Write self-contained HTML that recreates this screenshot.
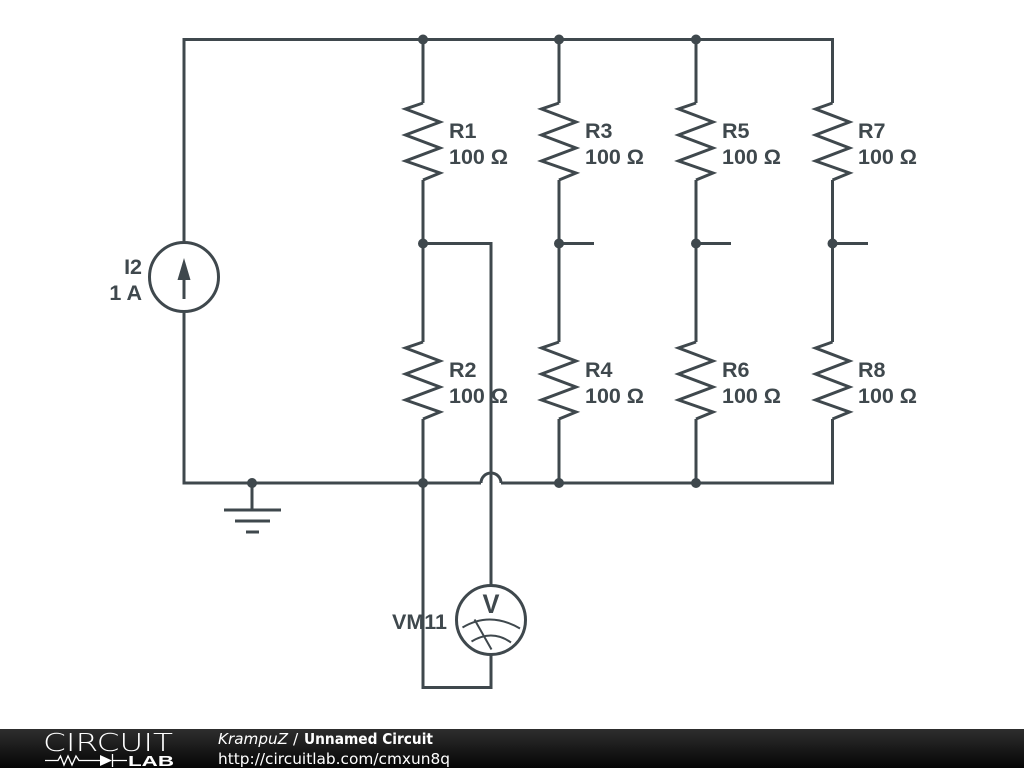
<!DOCTYPE html>
<html><head><meta charset="utf-8"><style>
html,body{margin:0;padding:0;background:#fff}
body{width:1024px;height:768px;overflow:hidden;position:relative}
svg{position:absolute;left:0;top:0}
.l{font:bold 21.500px "Liberation Sans",sans-serif;fill:#3f484d}
.f{font:15.400px "DejaVu Sans",sans-serif;fill:#fff}
.i{font-style:italic}
.b{font-weight:bold}
</style></head><body>
<svg width="1024" height="768" viewBox="0 0 1024 768">
<defs>
<linearGradient id="g" x1="0" y1="0" x2="0" y2="1"><stop offset="0" stop-color="#2e2e2e"/><stop offset="1" stop-color="#050505"/></linearGradient>
</defs>
<g fill="none" stroke="#3f484d" stroke-width="3">
<path d="M184 241V39.500H832.500V103M184 313V483H481M501 483H832.500V419"/>
<path d="M481 483A10 10 0 0 1 501 483"/>
<path d="M423 39.500V103M559 39.500V103M696 39.500V103"/>
<path d="M423 180V342M559 180V342M696 180V342M832.500 180V342"/>
<path d="M423 419V687.500H491V654M559 419V483M696 419V483"/>
<path d="M423 243.500H491V585M559 243.500H594M696 243.500H731M832.500 243.500H868"/>
<path d="M252 483V510M224 510H281M235 521H270M246 532H259"/>
<g>
<polyline points="423,103 405.500,109 440,122 405.500,135 440,148 405.500,161 440,173 423,180"/>
<polyline points="559,103 541.500,109 576,122 541.500,135 576,148 541.500,161 576,173 559,180"/>
<polyline points="696,103 678.500,109 713,122 678.500,135 713,148 678.500,161 713,173 696,180"/>
<polyline points="832.500,103 815.500,109 849.500,122 815.500,135 849.500,148 815.500,161 849.500,173 832.500,180"/>
<polyline points="423,342 405.500,348 440,361 405.500,374 440,387 405.500,400 440,412 423,419"/>
<polyline points="559,342 541.500,348 576,361 541.500,374 576,387 541.500,400 576,412 559,419"/>
<polyline points="696,342 678.500,348 713,361 678.500,374 713,387 678.500,400 713,412 696,419"/>
<polyline points="832.500,342 815.500,348 849.500,361 815.500,374 849.500,387 815.500,400 849.500,412 832.500,419"/>
</g>
<circle cx="184" cy="277" r="34.500"/>
<path d="M184 275V299"/>
<circle cx="491" cy="620" r="34.500"/>
<g stroke-width="2"><path d="M462.500 627.500Q490 611 520 628.500M471.500 641.500Q492 629 511 642.500M474.500 619.500L491.500 649.500"/></g>
</g>
<path d="M184 258L190.500 280H177.500Z" fill="#3f484d"/>
<g fill="#3f484d">
<circle cx="423" cy="39.500" r="5"/><circle cx="559" cy="39.500" r="5"/><circle cx="696" cy="39.500" r="5"/>
<circle cx="423" cy="243.500" r="5"/><circle cx="559" cy="243.500" r="5"/><circle cx="696" cy="243.500" r="5"/><circle cx="832.500" cy="243.500" r="5"/>
<circle cx="252" cy="483" r="5"/><circle cx="423" cy="483" r="5"/><circle cx="559" cy="483" r="5"/><circle cx="696" cy="483" r="5"/>
</g>
<g>
<text class="l" x="449" y="138">R1</text><text class="l" x="449" y="164" textLength="59" lengthAdjust="spacingAndGlyphs">100 Ω</text>
<text class="l" x="585" y="138">R3</text><text class="l" x="585" y="164" textLength="59" lengthAdjust="spacingAndGlyphs">100 Ω</text>
<text class="l" x="722" y="138">R5</text><text class="l" x="722" y="164" textLength="59" lengthAdjust="spacingAndGlyphs">100 Ω</text>
<text class="l" x="858" y="138">R7</text><text class="l" x="858" y="164" textLength="59" lengthAdjust="spacingAndGlyphs">100 Ω</text>
<text class="l" x="449" y="377">R2</text><text class="l" x="449" y="403" textLength="59" lengthAdjust="spacingAndGlyphs">100 Ω</text>
<text class="l" x="585" y="377">R4</text><text class="l" x="585" y="403" textLength="59" lengthAdjust="spacingAndGlyphs">100 Ω</text>
<text class="l" x="722" y="377">R6</text><text class="l" x="722" y="403" textLength="59" lengthAdjust="spacingAndGlyphs">100 Ω</text>
<text class="l" x="858" y="377">R8</text><text class="l" x="858" y="403" textLength="59" lengthAdjust="spacingAndGlyphs">100 Ω</text>
<text class="l" x="142" y="274" text-anchor="end">I2</text>
<text class="l" x="142" y="300" text-anchor="end">1 A</text>
<text class="l" x="392" y="629" textLength="55" lengthAdjust="spacingAndGlyphs">VM11</text>
<text class="l" x="482.500" y="613" textLength="17" lengthAdjust="spacingAndGlyphs" style="font-size:27px">V</text>
</g>
<rect x="0" y="729" width="1024" height="39" fill="url(#g)"/>
<text x="43" y="751" style="font:300 25px 'DejaVu Sans',sans-serif;fill:#fff" textLength="130" lengthAdjust="spacingAndGlyphs">CIRCUIT</text>
<path d="M45 760.500H58L60.500 756 64 765 68 756 72 765 76 756 79 760.500H100M112.500 760.500H127M112.500 754V767" fill="none" stroke="#fff" stroke-width="1.300"/>
<path d="M100 755V766L112 760.500Z" fill="#fff"/>
<text x="128" y="766" style="font:bold 14.500px 'Liberation Sans',sans-serif;fill:#fff" textLength="46" lengthAdjust="spacingAndGlyphs">LAB</text>
<text class="f i" x="218" y="744" textLength="70" lengthAdjust="spacingAndGlyphs">KrampuZ</text>
<text class="f" x="293" y="744">/</text>
<text class="f b" x="304" y="744" textLength="129" lengthAdjust="spacingAndGlyphs">Unnamed Circuit</text>
<text class="f" x="218" y="764" textLength="232" lengthAdjust="spacingAndGlyphs">http://circuitlab.com/cmxun8q</text>
</svg>
</body></html>
